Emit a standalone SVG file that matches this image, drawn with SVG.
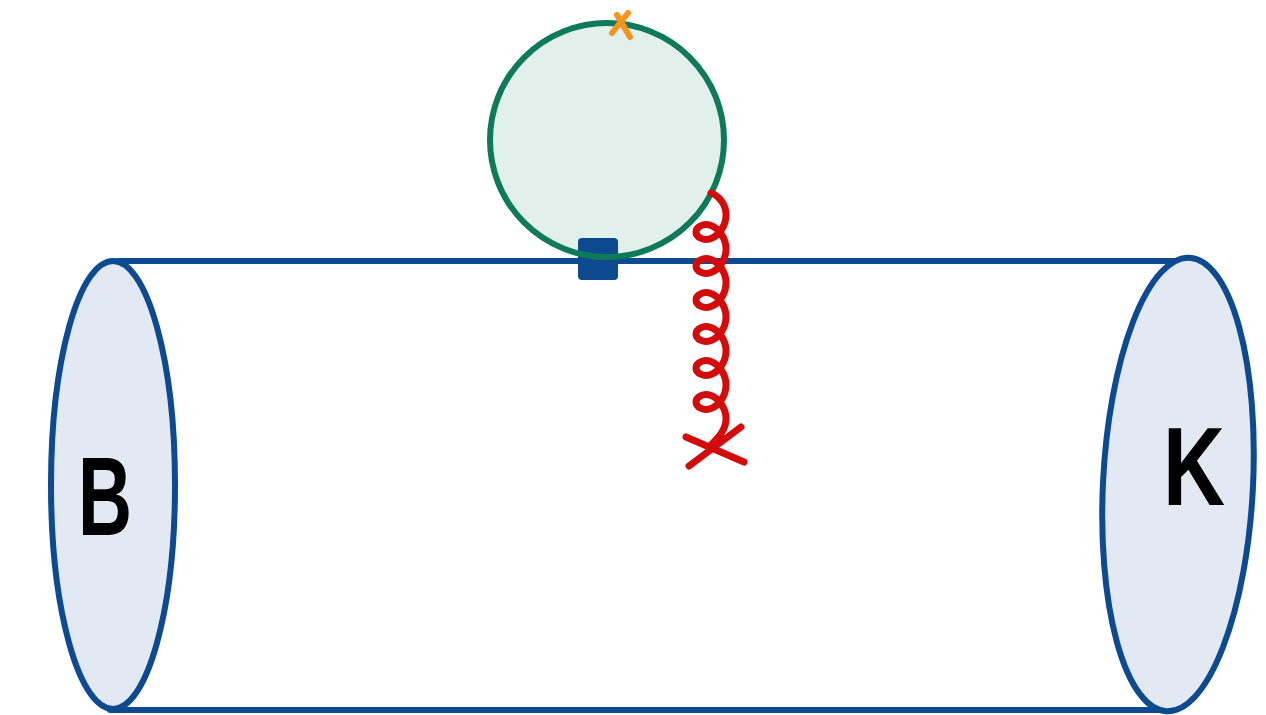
<svg xmlns="http://www.w3.org/2000/svg" width="1266" height="715" viewBox="0 0 1266 715">
  <style>
    .edge { stroke: #0d4a90; stroke-width: 6; fill: none; stroke-linecap: round; }
    .cap { stroke: #0d4a90; stroke-width: 6; fill: #e3e9f3; }
    .label { font-family: "Liberation Sans", Arial, sans-serif; font-weight: bold; font-size: 112px; fill: #000; text-anchor: middle; }
    .gluon { stroke: #d30b0b; stroke-width: 7; fill: none; stroke-linecap: round; stroke-linejoin: round; }
    .loop-stroke { stroke: #0e7a57; stroke-width: 6; fill: none; }
  </style>
  <rect width="1266" height="715" fill="#fff"/>

  <!-- cylinder body -->
  <g id="connectors">
    <line class="edge" x1="118" y1="261" x2="1190" y2="261"/>
    <line class="edge" x1="110" y1="710" x2="1167" y2="710"/>
  </g>

  <!-- B end cap -->
  <g id="node-B">
    <ellipse class="cap" cx="113" cy="485" rx="62" ry="224"/>
    <text class="label" x="105" y="535" textLength="54" lengthAdjust="spacingAndGlyphs">B</text>
  </g>

  <!-- K end cap -->
  <g id="node-K">
    <ellipse class="cap" cx="1178" cy="484.5" rx="75" ry="227" transform="rotate(2.9 1178 484.5)"/>
    <text class="label" x="1194" y="505" textLength="62" lengthAdjust="spacingAndGlyphs">K</text>
  </g>

  <!-- quark loop with vertex -->
  <g id="node-loop">
    <circle cx="607" cy="140" r="117" fill="#e2f0ec"/>
    <rect x="578" y="238" width="40" height="42" rx="4" fill="#0d4a90"/>
    <circle class="loop-stroke" cx="607" cy="140" r="117"/>
  </g>

  <!-- insertion on top of the loop -->
  <g id="node-cross-orange" stroke="#f7941d" stroke-width="6" stroke-linecap="round">
    <line x1="617" y1="15" x2="630" y2="37"/>
    <line x1="628" y1="13" x2="612" y2="33"/>
  </g>

  <!-- gluon line -->
  <g id="node-gluon">
    <path class="gluon" d="M711 193 C718.9 195.8 726 204.3 726 215
      c0 10.69 -7.15 20.67 -15 23.5 c-7.85 2.83 -15 -1.48 -15 -6.5 c0 -5.02 7.15 -9.33 15 -6.5 c7.85 2.83 15 12.81 15 23.5
      c0 10.69 -7.15 20.67 -15 23.5 c-7.85 2.83 -15 -1.48 -15 -6.5 c0 -5.02 7.15 -9.33 15 -6.5 c7.85 2.83 15 12.81 15 23.5
      c0 10.69 -7.15 20.67 -15 23.5 c-7.85 2.83 -15 -1.48 -15 -6.5 c0 -5.02 7.15 -9.33 15 -6.5 c7.85 2.83 15 12.81 15 23.5
      c0 10.69 -7.15 20.67 -15 23.5 c-7.85 2.83 -15 -1.48 -15 -6.5 c0 -5.02 7.15 -9.33 15 -6.5 c7.85 2.83 15 12.81 15 23.5
      c0 10.69 -7.15 20.67 -15 23.5 c-7.85 2.83 -15 -1.48 -15 -6.5 c0 -5.02 7.15 -9.33 15 -6.5 c7.85 2.83 15 12.81 15 23.5
      c0 10.69 -7.15 20.67 -15 23.5 c-7.85 2.83 -15 -1.48 -15 -6.5 c0 -5.02 7.15 -9.33 15 -6.5 c7.85 2.83 15 12.81 15 23.5
      C726 430 718 438 711 445"/>
    <line class="gluon" x1="686" y1="437" x2="744" y2="462"/>
    <line class="gluon" x1="741" y1="427" x2="689" y2="466"/>
  </g>
</svg>
